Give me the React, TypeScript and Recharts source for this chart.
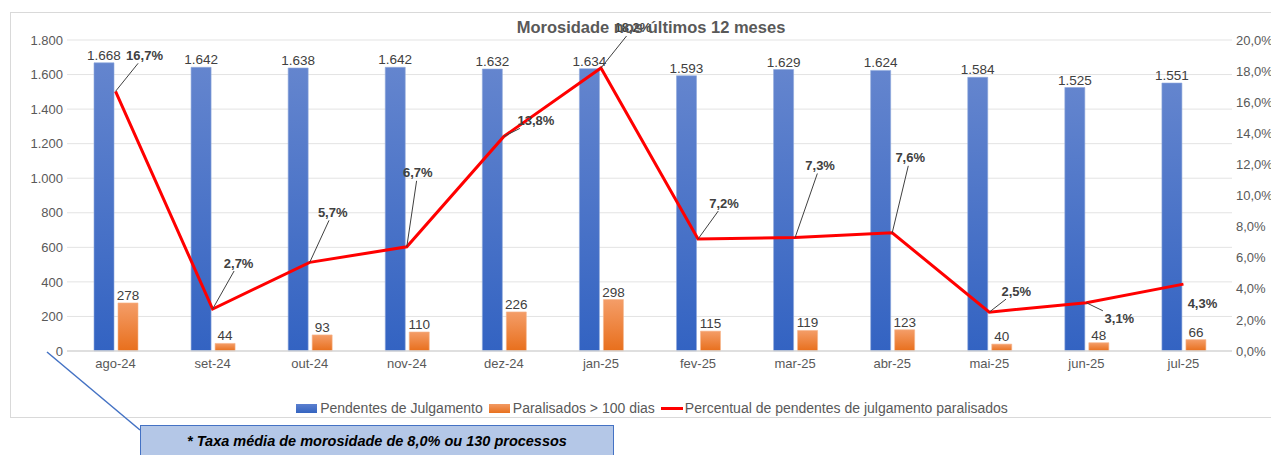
import { ComposedChart, Bar, Line, XAxis, YAxis, CartesianGrid, Legend, LabelList } from 'recharts';

const months = ['ago-24', 'set-24', 'out-24', 'nov-24', 'dez-24', 'jan-25', 'fev-25', 'mar-25', 'abr-25', 'mai-25', 'jun-25', 'jul-25'];
const pendentes = [1668, 1642, 1638, 1642, 1632, 1634, 1593, 1629, 1624, 1584, 1525, 1551];
const paralisados = [278, 44, 93, 110, 226, 298, 115, 119, 123, 40, 48, 66];
const percentual = [16.7, 2.7, 5.7, 6.7, 13.8, 18.2, 7.2, 7.3, 7.6, 2.5, 3.1, 4.3];
const leftTicks = [0, 200, 400, 600, 800, 1000, 1200, 1400, 1600, 1800];
const rightTicks = [0, 2, 4, 6, 8, 10, 12, 14, 16, 18, 20];

// where each percentage label sits relative to its point (Excel moved them by hand)
const labelOffsets = [
  { dx: 29, dy: -36, leader: true },
  { dx: 26, dy: -46, leader: true },
  { dx: 23, dy: -50, leader: true },
  { dx: 11, dy: -74, leader: true },
  { dx: 32, dy: -16, leader: true },
  { dx: 32, dy: -40, leader: true },
  { dx: 26, dy: -36, leader: true },
  { dx: 25, dy: -72, leader: true },
  { dx: 18, dy: -75, leader: true },
  { dx: 27, dy: -21, leader: true },
  { dx: 33, dy: 16, leader: true },
  { dx: 19, dy: 19, leader: false },
];

const data = months.map((m, i) => ({
  mes: m,
  pendentes: pendentes[i],
  paralisados: paralisados[i],
  percentual: percentual[i],
}));

const FONT = '"Liberation Sans", Arial, sans-serif';

const fmtMil = (v: any) => {
  const n = Number(v);
  if (n >= 1000) return Math.floor(n / 1000) + '.' + String(n % 1000).padStart(3, '0');
  return String(n);
};
const fmtPct = (v: number) => v.toFixed(1).replace('.', ',') + '%';

const PctLabel = (props: any) => {
  const { x, y, index, value } = props;
  const o = labelOffsets[index];
  if (!o) return null;
  const text = fmtPct(Number(value));
  const lx = x + o.dx;
  const ly = y + o.dy;
  const hw = text.length * 3.9 + 1;
  const hh = 8;
  let line = null;
  if (o.leader) {
    const t = Math.min(
      Math.abs(o.dx) > 0 ? hw / Math.abs(o.dx) : 1,
      Math.abs(o.dy) > 0 ? hh / Math.abs(o.dy) : 1
    );
    const ex = lx - o.dx * t;
    const ey = ly - o.dy * t;
    line = <line x1={x} y1={y} x2={ex} y2={ey} stroke="#404040" strokeWidth={1} />;
  }
  return (
    <g>
      {line}
      <text x={lx} y={ly} textAnchor="middle" dominantBaseline="central" fontSize={13} fontWeight="bold" fill="#404040" fontFamily={FONT}>
        {text}
      </text>
    </g>
  );
};

const LegendBox = () => (
  <div style={{ display: 'flex', justifyContent: 'center', alignItems: 'center', height: 18, fontFamily: FONT, fontSize: 14, color: '#595959' }}>
    <span style={{ display: 'inline-block', width: 21, height: 9, background: 'linear-gradient(#5b7fcf, #3464c0)', marginRight: 3 }} />
    <span style={{ marginRight: 6 }}>Pendentes de Julgamento</span>
    <span style={{ display: 'inline-block', width: 21, height: 9, background: 'linear-gradient(#f29a63, #e8711f)', marginRight: 3 }} />
    <span style={{ marginRight: 6 }}>Paralisados &gt; 100 dias</span>
    <span style={{ display: 'inline-block', width: 22, height: 3, background: '#ff0000', marginRight: 2 }} />
    <span>Percentual de pendentes de julgamento paralisados</span>
  </div>
);

export default function App() {
  return (
    <div style={{ position: 'relative', width: 1271, height: 447, overflow: 'hidden', fontFamily: FONT }}>
      <div style={{ position: 'absolute', left: 2, top: 4, width: 1280, height: 404, border: '1px solid #d9d9d9', background: '#fff' }}>
        <ComposedChart width={1276} height={404} data={data} margin={{ top: 27, right: 0, bottom: 0, left: 6 }} barGap={4}>
          <defs>
            <linearGradient id="gradAzul" x1="0" y1="0" x2="0" y2="1">
              <stop offset="0%" stopColor="#6485ce" />
              <stop offset="100%" stopColor="#3363c2" />
            </linearGradient>
            <linearGradient id="gradLaranja" x1="0" y1="0" x2="0" y2="1">
              <stop offset="0%" stopColor="#f49d68" />
              <stop offset="100%" stopColor="#e86f1c" />
            </linearGradient>
          </defs>
          <CartesianGrid vertical={false} stroke="#e3e3e3" strokeWidth={1} yAxisId="left" />
          <XAxis dataKey="mes" height={48} tickLine={false} axisLine={{ stroke: '#d9d9d9', strokeWidth: 1.5 }} tick={{ fill: '#595959', fontSize: 13, fontFamily: FONT }} tickMargin={2} />
          <YAxis yAxisId="left" width={50} domain={[0, 1800]} ticks={leftTicks} tickFormatter={fmtMil} axisLine={false} tickLine={false} tickSize={0} tick={{ fill: '#595959', fontSize: 13, fontFamily: FONT }} tickMargin={4} />
          <YAxis yAxisId="right" orientation="right" width={55} domain={[0, 20]} ticks={rightTicks} tickFormatter={(v: number) => v.toFixed(1).replace('.', ',') + '%'} axisLine={false} tickLine={false} tickSize={0} tick={{ fill: '#595959', fontSize: 13, fontFamily: FONT }} tickMargin={4} />
          <Bar yAxisId="left" dataKey="pendentes" barSize={20} fill="url(#gradAzul)" stroke="#8fa8dc" strokeWidth={0.6} isAnimationActive={false}>
            <LabelList dataKey="pendentes" position="top" offset={3} formatter={fmtMil} fill="#404040" fontSize={13.5} fontFamily={FONT} />
          </Bar>
          <Bar yAxisId="left" dataKey="paralisados" barSize={20} fill="url(#gradLaranja)" stroke="#f6b58c" strokeWidth={0.6} isAnimationActive={false}>
            <LabelList dataKey="paralisados" position="top" offset={3} fill="#404040" fontSize={13.5} fontFamily={FONT} />
          </Bar>
          <Line yAxisId="right" dataKey="percentual" stroke="#ff0000" strokeWidth={3} dot={false} activeDot={false} isAnimationActive={false}>
            <LabelList dataKey="percentual" content={PctLabel} />
          </Line>
          <Legend verticalAlign="bottom" content={LegendBox} />
        </ComposedChart>
        <div style={{ position: 'absolute', left: 0, width: 1280, top: 5, textAlign: 'center', fontSize: 16.5, fontWeight: 'bold', color: '#595959', fontFamily: FONT, pointerEvents: 'none' }}>
          Morosidade nos últimos 12 meses
        </div>
      </div>
      <svg style={{ position: 'absolute', left: -8, top: -8 }} width={1279} height={455}>
        <line x1={47} y1={352} x2={140} y2={430} stroke="#4472c4" strokeWidth={1.5} />
      </svg>
      <div style={{ position: 'absolute', left: 132, top: 417, width: 474, height: 40, background: '#b4c7e7', border: '1.5px solid #4472c4', boxSizing: 'border-box', textAlign: 'center', fontSize: 14.5, fontWeight: 'bold', fontStyle: 'italic', color: '#000', paddingTop: 7, fontFamily: FONT }}>
        * Taxa média de morosidade de 8,0% ou 130 processos
      </div>
    </div>
  );
}
